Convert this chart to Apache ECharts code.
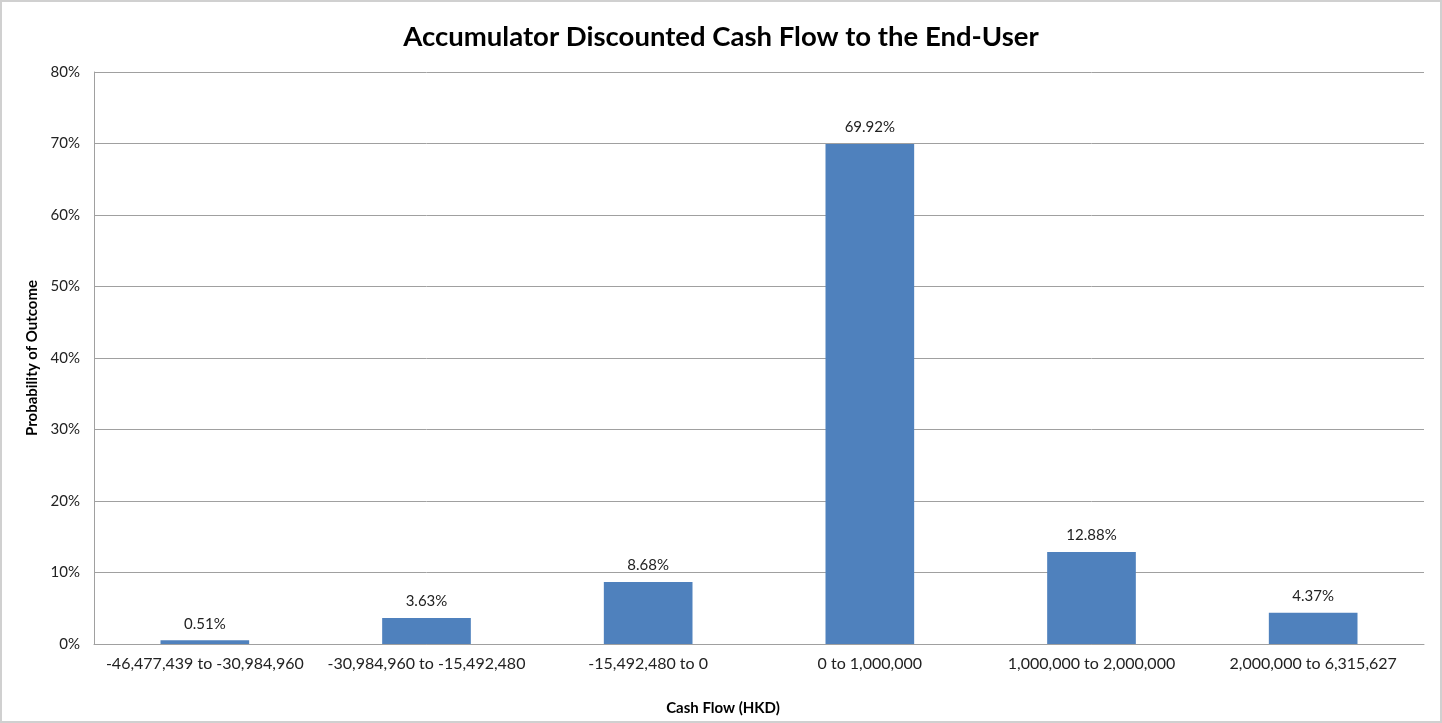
<!DOCTYPE html>
<html>
<head>
<meta charset="utf-8">
<script src="https://cdn.jsdelivr.net/npm/echarts@6/dist/echarts.min.js"></script>
<style>
  html, body { margin: 0; padding: 0; background: #fff; }
  #main { width: 1442px; height: 723px; box-sizing: border-box; border: 2px solid #d0d0d0; }
</style>
</head>
<body>
<div id="main"></div>
<script>
// categories (cash flow buckets, HKD)
var categories = [
  '-46,477,439 to -30,984,960',
  '-30,984,960 to -15,492,480',
  '-15,492,480 to 0',
  '0 to 1,000,000',
  '1,000,000 to 2,000,000',
  '2,000,000 to 6,315,627'
];
// probability of outcome (%)
var probabilities = [0.51, 3.63, 8.68, 69.92, 12.88, 4.37];

var myChart = echarts.init(document.getElementById('main'));
var fontFam = 'Lato, "Open Sans", sans-serif';
var option = {
  title: {
    text: 'Accumulator Discounted Cash Flow to the End-User',
    left: 'center',
    top: 16,
    textStyle: { fontFamily: fontFam, fontSize: 27.5, fontWeight: 'bold', color: '#000' }
  },
  grid: { left: 92, right: 16, top: 70, bottom: 73 },
  xAxis: {
    type: 'category',
    data: categories,
    name: 'Cash Flow (HKD)',
    nameLocation: 'middle',
    nameGap: 57,
    nameTextStyle: { fontFamily: fontFam, fontSize: 15, fontWeight: 'bold', color: '#000', padding: [0, 72, 0, 0] },
    axisTick: { show: false },
    axisLine: { lineStyle: { color: '#a0a0a0' } },
    axisLabel: { interval: 0, fontFamily: fontFam, fontSize: 16, color: '#222', margin: 12 }
  },
  yAxis: {
    type: 'value',
    min: 0,
    max: 80,
    interval: 10,
    name: 'Probability of Outcome',
    nameLocation: 'middle',
    nameGap: 52,
    nameTextStyle: { fontFamily: fontFam, fontSize: 15, fontWeight: 'bold', color: '#000' },
    axisLine: { show: true, lineStyle: { color: '#a0a0a0' } },
    axisTick: { show: false },
    axisLabel: { fontFamily: fontFam, fontSize: 15, color: '#222', margin: 14, formatter: '{value}%' },
    splitLine: { lineStyle: { color: '#a0a0a0' } }
  },
  series: [{
    type: 'bar',
    data: probabilities,
    barWidth: '40%',
    itemStyle: { color: '#4f81bd' },
    label: {
      show: true,
      position: 'top',
      distance: 9,
      fontFamily: fontFam,
      fontSize: 15,
      color: '#222',
      formatter: function (p) { return p.value.toFixed(2) + '%'; }
    }
  }]
};
myChart.setOption(option);
</script>
</body>
</html>
